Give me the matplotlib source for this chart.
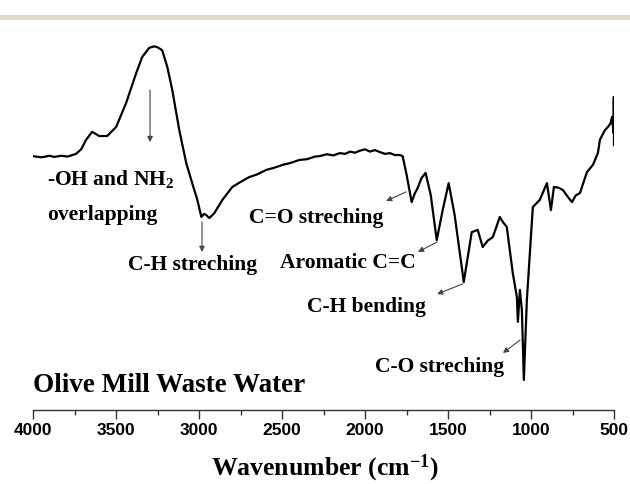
import matplotlib.pyplot as plt
from matplotlib.patches import Rectangle

# FTIR spectrum of olive mill waste water (transmittance, arbitrary units)
wavenumber = [4000, 3950, 3900, 3873, 3830, 3790, 3741, 3710, 3680, 3644, 3620,
              3602, 3553, 3499, 3439, 3378, 3342, 3300, 3270, 3252, 3222,
              3191, 3161, 3119, 3077, 3041, 3010, 2986, 2970, 2956, 2938,
              2908, 2859, 2799, 2750, 2697, 2650, 2594, 2550, 2497, 2450,
              2395, 2350, 2300, 2274, 2230, 2190, 2153, 2120, 2090, 2060,
              2033, 2000, 1970, 1940, 1912, 1880, 1850, 1820, 1791, 1773,
              1749, 1719, 1700, 1683, 1660, 1635, 1604, 1568, 1532, 1496,
              1460, 1405, 1357, 1321, 1291, 1260, 1230, 1188, 1170, 1146,
              1110, 1085, 1079, 1067, 1055, 1043, 1025, 989, 947, 904,
              880, 862, 835, 808, 780, 753, 730, 705, 663, 627, 597, 585,
              554, 536, 520, 512, 503, 501, 500]
transmittance = [66.8, 66.5, 66.9, 66.6, 66.9, 66.7, 67.4, 68.6, 71.1, 73.2, 72.6,
                 72.1, 72.1, 74.5, 80.8, 88.7, 92.9, 95.3, 95.7, 95.5, 94.7,
                 90.3, 84.2, 73.7, 65.0, 59.7, 55.3, 50.8, 51.6, 51.3, 50.5,
                 51.8, 55.3, 58.7, 60.0, 61.3, 62.0, 63.2, 63.7, 64.5, 65.0,
                 65.8, 66.0, 66.7, 66.8, 67.3, 67.0, 67.6, 67.4, 68.0, 67.7,
                 68.2, 68.6, 68.0, 68.4, 67.9, 67.4, 67.6, 67.1, 67.1, 66.8,
                 61.8, 54.7, 57.0, 58.4, 61.0, 62.4, 56.6, 44.7, 52.6, 59.7,
                 51.3, 33.7, 46.8, 47.4, 42.9, 44.6, 45.5, 50.8, 49.5, 48.2,
                 36.1, 29.7, 23.2, 31.6, 26.3, 7.9, 28.9, 53.4, 55.3, 59.7,
                 52.6, 58.7, 58.5, 57.9, 56.2, 54.7, 56.5, 57.1, 62.6, 64.5, 67.6, 71.1,
                 73.7, 74.5, 75.5, 77.1, 73.0, 82.4, 69.7]

# band assignments: text, its anchor, and arrows (tail, head)
labels = ["-OH and NH$_2$", "overlapping", "C-H streching",
          "C=O streching", "Aromatic C=C", "C-H bending", "C-O streching"]
label_pos = [(3915, 59.2), (3915, 50.0), (3428, 36.8), (2699, 49.2),
             (2512, 37.4), (2349, 25.8), (1940, 10.0)]
arrows = [((3295, 84.2), (3295, 70.5)),
          ((2982, 49.5), (2982, 41.6)),
          ((1753, 57.4), (1873, 55.0)),
          ((1566, 44.2), (1681, 41.6)),
          ((1410, 33.2), (1566, 30.5)),
          ((1066, 18.4), (1169, 15.0))]

serif = "Liberation Serif"
sans = "Liberation Sans"
plt.rcParams["mathtext.fontset"] = "custom"
plt.rcParams["mathtext.rm"] = "Liberation Serif:bold"
plt.rcParams["mathtext.bf"] = "Liberation Serif:bold"
plt.rcParams["mathtext.default"] = "bf"

fig = plt.figure(figsize=(6.3, 4.84), dpi=100)
fig.patches.append(Rectangle((0, 1 - 20 / 484), 1, 5 / 484, transform=fig.transFigure,
                             facecolor="#e0d9c6", edgecolor="none"))

ax = fig.add_axes([33 / 630, 74 / 484, 581 / 630, 380 / 484])
ax.plot(wavenumber, transmittance, color="black", lw=1.6, solid_joinstyle="round")
ax.set_xlim(4000, 500)
ax.set_ylim(0, 100)

for s in ["top", "left", "right"]:
    ax.spines[s].set_visible(False)
ax.spines["bottom"].set_color("#333333")
ax.spines["bottom"].set_linewidth(1.0)
ax.set_yticks([])
ax.set_xticks(range(4000, 499, -500))
ax.set_xticks(range(3750, 500, -500), minor=True)
ax.tick_params(axis="x", which="major", length=6.5, width=1.0, color="#333333",
               pad=3, labelsize=12.5)
ax.tick_params(axis="x", which="minor", length=3.5, width=1.0, color="#333333")
for t in ax.get_xticklabels():
    t.set_fontfamily(sans)
    t.set_fontweight("bold")

for txt, (x, y) in zip(labels, label_pos):
    ax.text(x, y, txt, family=serif, fontweight="bold", fontsize=15.5,
            va="baseline", ha="left")

for tail, head in arrows:
    ax.annotate("", xy=head, xytext=tail,
                arrowprops=dict(arrowstyle="-|>", color="#444444", lw=0.8,
                                mutation_scale=8, shrinkA=0, shrinkB=0))

ax.text(4000, 4.7, "Olive Mill Waste Water", family=serif, fontweight="bold",
        fontsize=19.5, va="baseline", ha="left")

fig.text(325 / 630, 1 - 475 / 484, "Wavenumber (cm$^{-1}$)", family=serif,
         fontweight="bold", fontsize=18.5, ha="center", va="baseline")

fig.savefig("out.png", dpi=100)
